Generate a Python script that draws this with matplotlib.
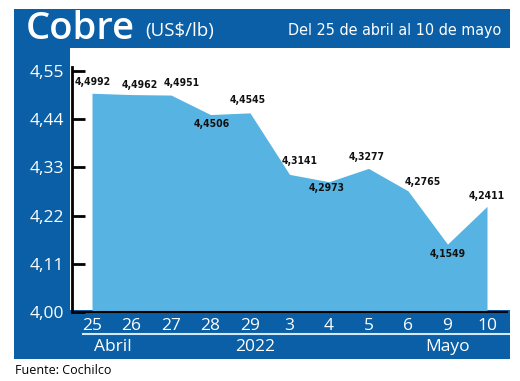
import matplotlib
matplotlib.use("Agg")
import matplotlib.pyplot as plt
from matplotlib.patches import Rectangle
import numpy as np

# data
days = ["25", "26", "27", "28", "29", "3", "4", "5", "6", "9", "10"]
prices = [4.4992, 4.4962, 4.4951, 4.4506, 4.4545, 4.3141, 4.2973, 4.3277,
          4.2765, 4.1549, 4.2411]
price_labels = ["4,4992", "4,4962", "4,4951", "4,4506", "4,4545", "4,3141",
                "4,2973", "4,3277", "4,2765", "4,1549", "4,2411"]
yticks = [4.00, 4.11, 4.22, 4.33, 4.44, 4.55]
ytick_labels = ["4,00", "4,11", "4,22", "4,33", "4,44", "4,55"]

# label offsets in pixels (dx, dy) relative to each point
label_offsets = [(1, 11), (8, 10), (11, 12), (1, -9), (-2, 13), (10, 13),
                 (-2, -6), (-2, 11), (15, 9), (0, -10), (0, 10)]

W, H = 520, 381
BLUE = "#0a5fa6"
FILL = "#56b3e2"
txt_font = ["Open Sans", "DejaVu Sans"]

fig = plt.figure(figsize=(W / 100, H / 100), dpi=100)

# background frame drawn in pixel coordinates
bg = fig.add_axes([0, 0, 1, 1])
bg.set_xlim(0, W)
bg.set_ylim(H, 0)
bg.axis("off")
bg.add_patch(Rectangle((14, 9), 496, 39, color=BLUE, lw=0))
bg.add_patch(Rectangle((14, 9), 56, 350, color=BLUE, lw=0))
bg.add_patch(Rectangle((14, 310), 496, 49, color=BLUE, lw=0))
bg.plot([83, 509], [334, 334], color="#d4e9f7", lw=1.5)

bg.text(26, 29, "Cobre", color="white", fontsize=27.5, fontweight="semibold",
        family=txt_font, va="center", ha="left")
bg.text(145, 31, "(US$/lb)", color="white", fontsize=13.5, family=txt_font,
        va="center", ha="left")
bg.text(501, 30, "Del 25 de abril al 10 de mayo", color="white", fontsize=11.5,
        family="DejaVu Sans", stretch="condensed", va="center", ha="right")
bg.text(113, 347, "Abril", color="white", fontsize=12.5, family=txt_font,
        va="center", ha="center")
bg.text(255, 347, "2022", color="white", fontsize=12.5, family=txt_font,
        va="center", ha="center")
bg.text(448, 347, "Mayo", color="white", fontsize=12.5, family=txt_font,
        va="center", ha="center")
bg.text(15, 371, "Fuente: Cochilco", color="black", fontsize=9,
        family=txt_font, va="center", ha="left")

# main chart
x0, x1, ytop, ybot = 72, 507, 71, 312
ax = fig.add_axes([x0 / W, 1 - ybot / H, (x1 - x0) / W, (ybot - ytop) / H])
ax.patch.set_alpha(0)
x = np.arange(len(days))
ax.fill_between(x, 4.0, prices, color=FILL, lw=0)
ax.set_xlim(-20 / 39.5, len(days) - 1 + 20 / 39.5)
ax.set_ylim(4.0, 4.55)

for s in ["top", "right"]:
    ax.spines[s].set_visible(False)
ax.spines["left"].set_linewidth(2)
ax.spines["bottom"].set_linewidth(1.5)
ax.spines["left"].set_bounds(4.0, 4.56)

ax.set_yticks(yticks)
ax.set_yticklabels(ytick_labels, color="white", fontsize=12.5, family=txt_font)
ax.tick_params(axis="y", direction="in", length=9, width=2, pad=6)
ax.set_xticks(x)
ax.set_xticklabels(days, color="white", fontsize=12.5, family=txt_font)
ax.tick_params(axis="x", length=0, pad=4)

for xi, yi, lab, (dx, dy) in zip(x, prices, price_labels, label_offsets):
    ax.annotate(lab, (xi, yi), xytext=(dx * 0.72, dy * 0.72),
                textcoords="offset points", ha="center", va="center",
                fontsize=7.5, fontweight="bold", family="DejaVu Sans",
                stretch="condensed", color="#111111")

fig.savefig("out.png", dpi=100)
